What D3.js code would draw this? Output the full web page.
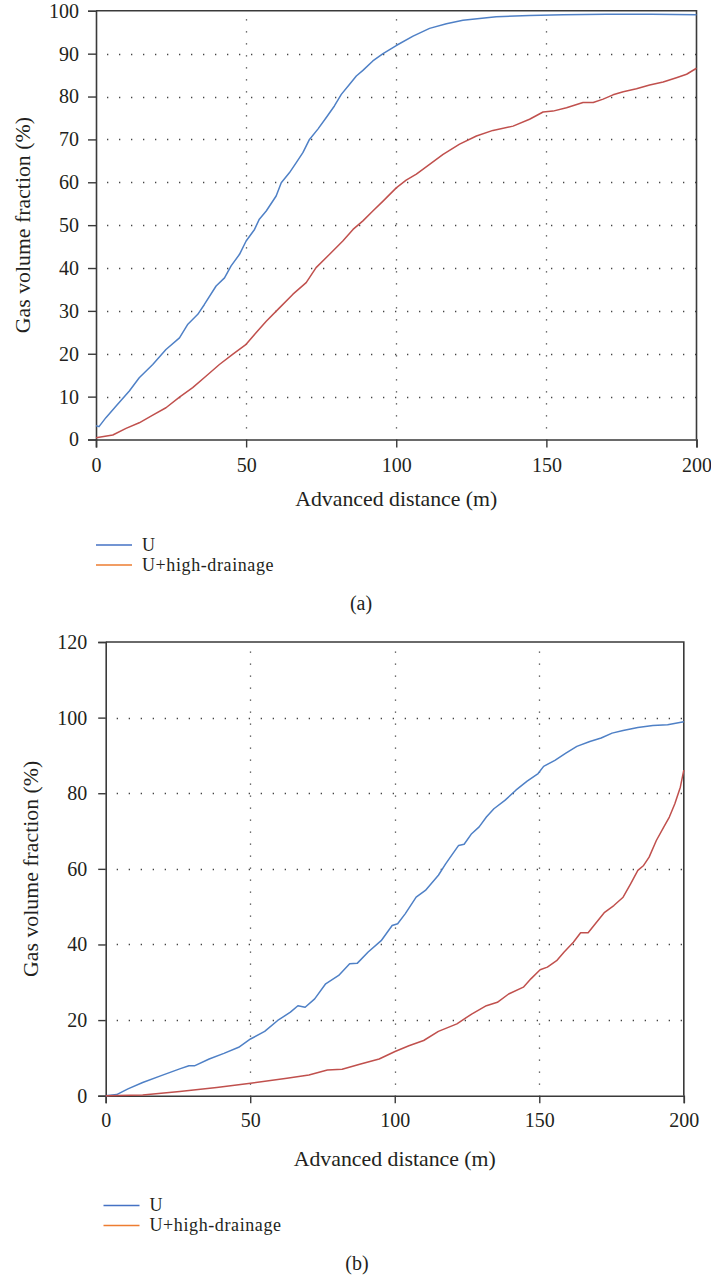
<!DOCTYPE html>
<html><head><meta charset="utf-8">
<script src="https://cdnjs.cloudflare.com/ajax/libs/d3/7.8.5/d3.min.js"></script>
<style>
html,body{margin:0;padding:0;background:#fff;}
svg text{font-family:"Liberation Serif","Times New Roman",serif;fill:#231F20;}
</style></head>
<body>
<svg id="chart" width="711" height="1278"></svg>
<script>
// ---------- DATA ----------
const seriesNames = ["U", "U+high-drainage"];
const xTicks = [0, 50, 100, 150, 200];
const yTicksA = [0, 10, 20, 30, 40, 50, 60, 70, 80, 90, 100];
const yTicksB = [0, 20, 40, 60, 80, 100, 120];
const xLabel = "Advanced distance (m)";
const yLabel = "Gas volume fraction (%)";
const panelLabels = ["(a)", "(b)"];

// Panel (a), series U
const aUx = [0,1,3.3,6.7,11.1,14.4,18.9,23.3,27.8,30.6,33.9,36.1,40,42.8,45,47.8,50,52.8,54.4,56.7,60,61.7,64.4,66.7,68.9,71.1,73.9,76.7,79.4,81.7,84.4,86.7,88.9,92.2,95.6,100,105.6,111.1,116.7,122.2,133.3,144.4,155.6,170,185,200];
const aUy = [3.2,3.0,5.1,7.8,11.3,14.4,17.5,21.0,23.7,26.9,29.2,31.5,35.8,37.7,40.5,43.2,46.3,49.0,51.4,53.3,56.8,59.9,62.2,64.6,66.9,70.0,72.4,75.1,77.8,80.5,82.8,84.8,86.1,88.3,90.0,91.9,94.1,95.9,97.0,97.8,98.6,98.9,99.1,99.2,99.2,99.1];
// Panel (a), series U+high-drainage
const aHx = [0,5.6,10,14.4,18.9,23.3,27.8,32.2,36.7,41.1,45.6,50,53.3,56.7,61.1,65.6,70,73.3,77.8,82.2,85.6,88.9,92.2,95.6,100,103.3,106.7,111.1,115.6,121.1,126.7,132.2,138.9,144.4,148.9,152.2,156.7,162.2,165.6,168.9,172.2,175.6,180,184.4,188.9,193.3,196.7,200];
const aHy = [0.4,1.05,2.6,3.9,5.7,7.4,9.9,12.1,14.8,17.5,19.9,22.2,24.9,27.6,30.7,33.9,36.6,40.1,43.2,46.3,49.0,51.0,53.3,55.6,58.7,60.5,61.9,64.2,66.5,68.9,70.8,72.1,73.1,74.7,76.4,76.6,77.4,78.6,78.6,79.4,80.4,81.1,81.8,82.7,83.4,84.4,85.2,86.6];

// Panel (b), series U
const bUx = [0,3.8,7.7,12.8,19.2,25.6,28.8,30.7,35.8,40.9,46,50.1,55,59.5,63.9,66.5,69,72.3,76.1,80.6,84.4,87,90.8,95.3,99.1,101,103.6,107.4,110.6,115.1,117.6,119.6,122.1,124,126.6,129.2,131.7,134.3,138.1,141.9,145.8,149.6,151.5,155.4,159.2,163,167.5,171.4,175.2,179,184.1,189.3,194.4,200];
const bUy = [0,0.3,1.8,3.5,5.3,7.1,7.9,7.9,9.7,11.2,12.8,15.0,17.0,19.9,22.1,23.8,23.4,25.6,29.6,31.8,34.9,35.0,38.0,41.0,45.0,45.5,48.1,52.5,54.3,58.3,61.3,63.5,66.2,66.5,69.3,71.1,73.7,75.9,78.1,80.8,83.2,85.2,87.1,88.7,90.6,92.4,93.7,94.6,95.9,96.6,97.4,97.9,98.1,98.9];
// Panel (b), series U+high-drainage
const bHx = [0,12.8,25.6,38.4,50.1,62.7,70.3,76.7,81.8,88.2,94.6,100.1,104.9,110,115.1,121.5,126.6,131.7,135.5,139.4,144.5,147.1,150.3,152.8,156,158.6,161.8,164.3,166.9,169.4,172.6,175.8,179,181.6,184.1,186.1,188,190.5,193.1,195,196.9,198.8,200];
const bHy = [0,0.2,1.1,2.2,3.3,4.6,5.5,6.8,7.0,8.4,9.7,11.7,13.2,14.6,17.0,19.0,21.6,23.8,24.7,26.9,28.7,30.9,33.3,34.0,35.7,38.0,40.6,43.1,43.1,45.5,48.5,50.3,52.5,56.0,59.6,60.9,63.1,67.5,71.1,73.7,77.2,81.6,86.1];

// ---------- STYLE ----------
const lineColors = ["#4F80C6", "#C0504D"];
const legendColors = ["#4472C4", "#ED7D31"];
const axisColor = "#3a3a3a";
const gridColor = "#444";

const svg = d3.select("#chart");

function zip(xs, ys){ return xs.map((x,i)=>({x, y: ys[i]})); }

function drawPanel(p){
  const x = d3.scaleLinear().domain([0,200]).range([p.left, p.right]);
  const y = d3.scaleLinear().domain([0,p.yMax]).range([p.bottom, p.top]);
  const g = svg.append("g");

  // grid (dotted)
  g.append("g").selectAll("line.h").data(p.yTicks.filter(t=>t>0 && t<p.yMax)).join("line")
    .attr("x1", p.left).attr("x2", p.right)
    .attr("y1", d=>Math.round(y(d))+0.5).attr("y2", d=>Math.round(y(d))+0.5)
    .attr("stroke", gridColor).attr("stroke-width", 1.3)
    .attr("stroke-dasharray", "1.3,10.7").attr("stroke-dashoffset", -11);
  g.append("g").selectAll("line.v").data(xTicks.filter(t=>t>0 && t<200)).join("line")
    .attr("x1", d=>Math.round(x(d))+0.5).attr("x2", d=>Math.round(x(d))+0.5)
    .attr("y1", p.bottom).attr("y2", p.top)
    .attr("stroke", gridColor).attr("stroke-width", 1.3)
    .attr("stroke-dasharray", "1.3,10.7").attr("stroke-dashoffset", -11);

  // frame top/right
  g.append("path")
    .attr("d", `M${p.left},${p.top}H${p.right}V${p.bottom}`)
    .attr("fill","none").attr("stroke", axisColor).attr("stroke-width", 1.6);

  // axes
  const yAxis = d3.axisLeft(y).tickValues(p.yTicks).tickSize(p.tickLen).tickPadding(p.yPad).tickFormat(d3.format("d"));
  const gy = g.append("g").attr("transform", `translate(${p.left},0)`).call(yAxis);
  const xAxis = d3.axisBottom(x).tickValues(xTicks).tickSize(p.tickLen).tickPadding(p.xPad).tickFormat(d3.format("d"));
  const gx = g.append("g").attr("transform", `translate(0,${p.bottom})`).call(xAxis);
  [gx, gy].forEach(a=>{
    a.attr("font-family", null);
    a.select(".domain").attr("stroke", axisColor).attr("stroke-width", 1.6);
    a.selectAll(".tick line").attr("stroke", axisColor).attr("stroke-width", 1.4);
    a.selectAll(".tick text").attr("font-size", 20).attr("fill", "#231F20");
  });

  // series
  const line = d3.line().x(d=>x(d.x)).y(d=>y(d.y));
  p.series.forEach((s,i)=>{
    g.append("path").datum(s).attr("d", line)
      .attr("fill","none").attr("stroke", lineColors[i]).attr("stroke-width", 1.5)
      .attr("stroke-linejoin","round");
  });

  // axis titles
  g.append("text").attr("x", (p.left+p.right)/2).attr("y", p.xTitleY)
    .attr("text-anchor","middle").attr("font-size", 21.8).text(xLabel);
  g.append("text").attr("transform", `translate(${p.yTitleX},${(p.top+p.bottom)/2}) rotate(-90)`)
    .attr("text-anchor","middle").attr("font-size", 21.8).text(yLabel);

  // legend
  seriesNames.forEach((n,i)=>{
    const ly = p.legY + i*p.legGap;
    g.append("line").attr("x1", p.legX).attr("x2", p.legX+36)
      .attr("y1", ly).attr("y2", ly).attr("stroke", legendColors[i]).attr("stroke-width", 1.3);
    g.append("text").attr("x", p.legX+46).attr("y", ly+5.5)
      .attr("font-size", 18).attr("letter-spacing", 0.6).text(n);
  });

  // panel caption
  g.append("text").attr("x", p.capX).attr("y", p.capY).attr("text-anchor","middle")
    .attr("font-size", 20).text(p.caption);
}

drawPanel({
  left: 96, right: 696.5, top: 10.8, bottom: 439.5, yMax: 100, yTicks: yTicksA,
  tickLen: 8, yPad: 9, xPad: 10,
  xTitleY: 506, yTitleX: 30,
  legX: 96, legY: 545, legGap: 20,
  capX: 361, capY: 610, caption: panelLabels[0],
  series: [zip(aUx,aUy), zip(aHx,aHy)]
});

drawPanel({
  left: 105.7, right: 683.8, top: 642, bottom: 1095.7, yMax: 120, yTicks: yTicksB,
  tickLen: 7.5, yPad: 11, xPad: 10,
  xTitleY: 1166, yTitleX: 38,
  legX: 103.5, legY: 1205.5, legGap: 20,
  capX: 357, capY: 1270, caption: panelLabels[1],
  series: [zip(bUx,bUy), zip(bHx,bHy)]
});
</script>
</body></html>
